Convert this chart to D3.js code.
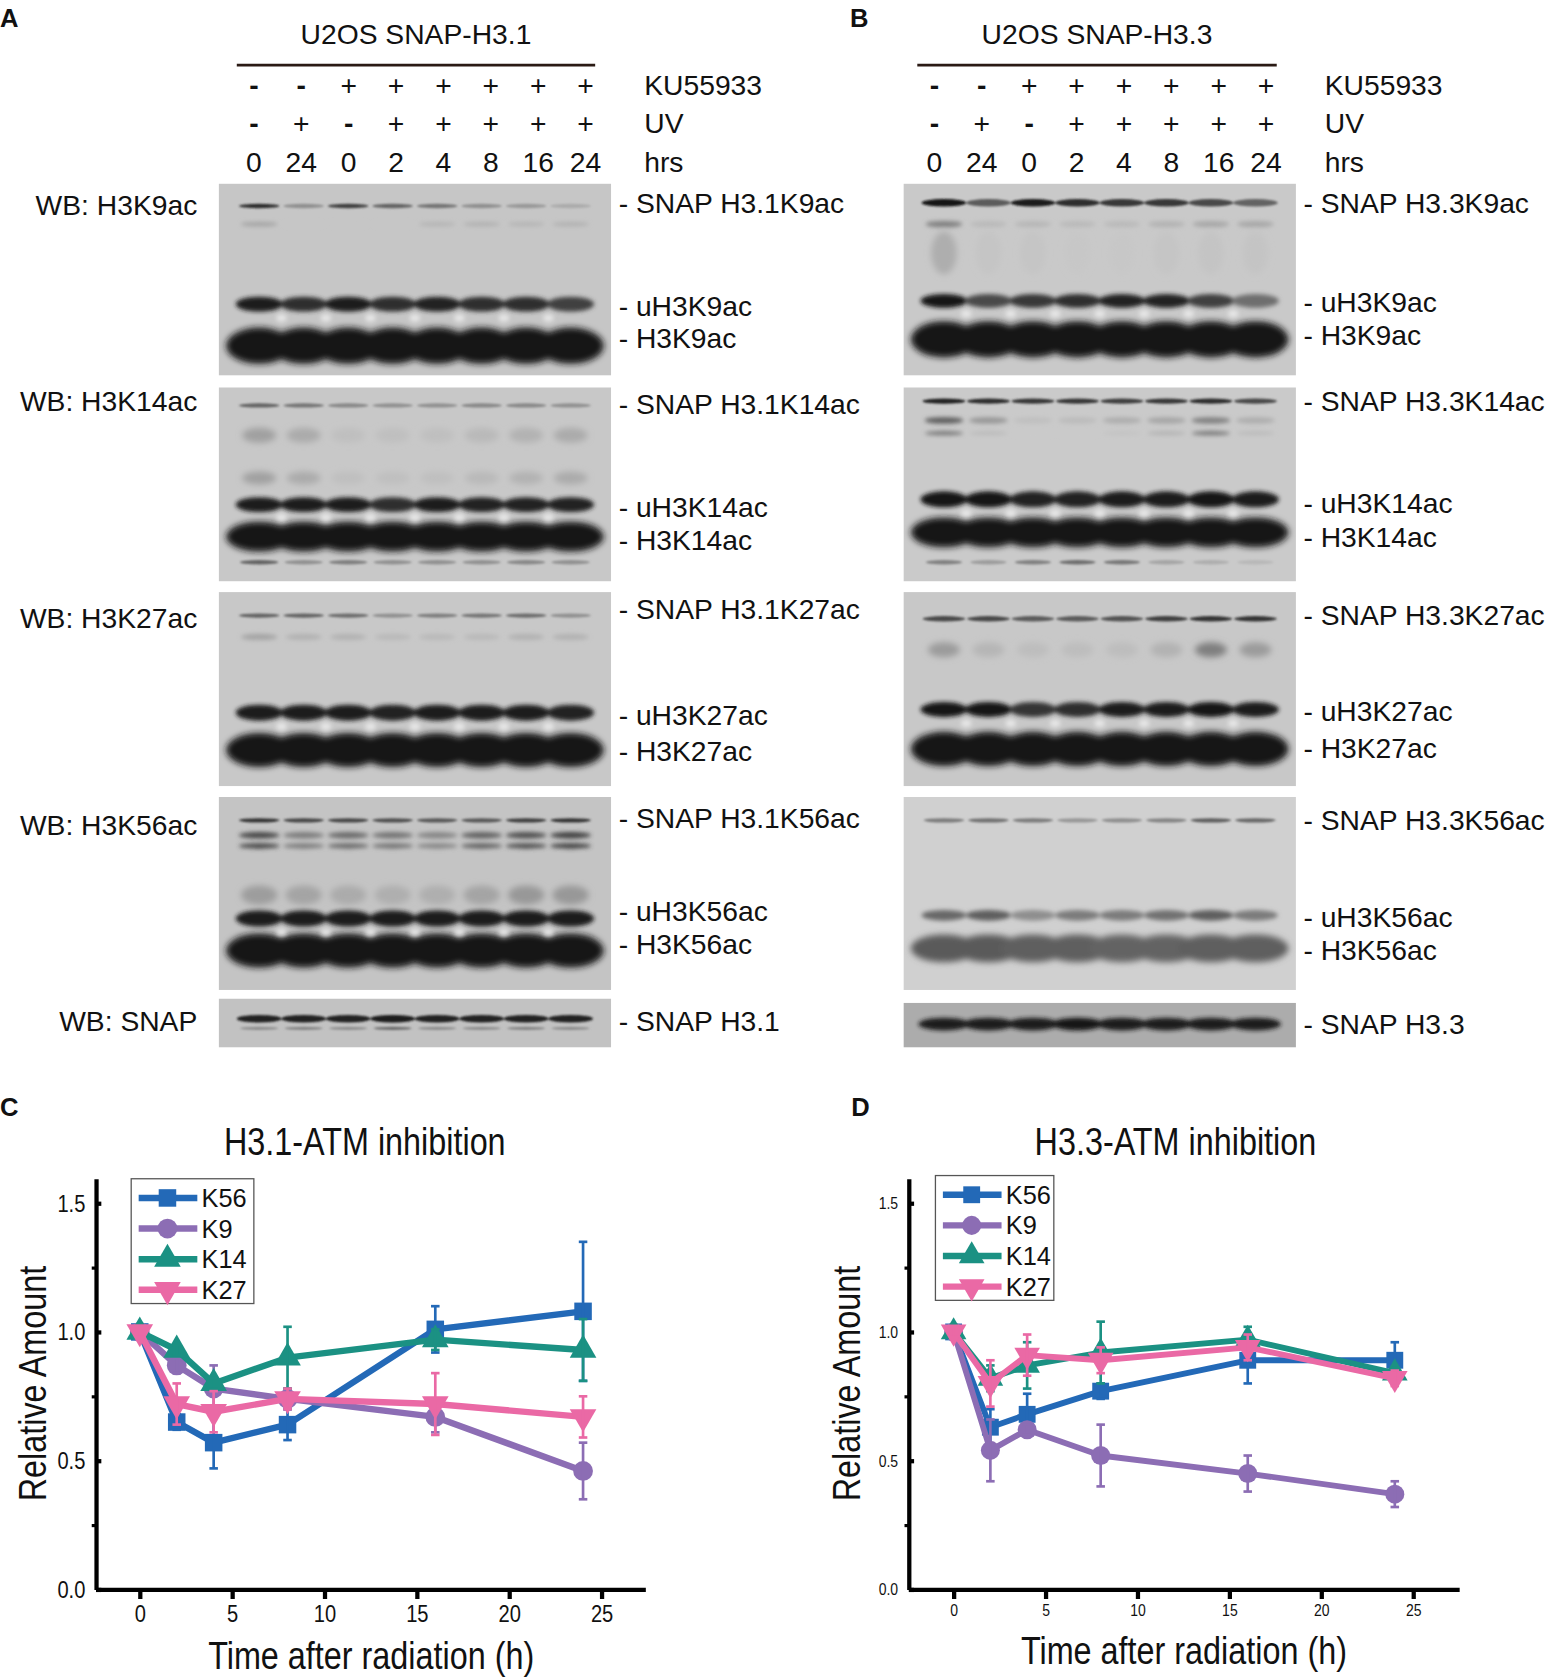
<!DOCTYPE html>
<html>
<head>
<meta charset="utf-8">
<script src="https://cdn.jsdelivr.net/npm/d3@7"></script>
<style>
  body { margin: 0; background: #fff; }
</style>
</head>
<body>
<div id="fig"></div>
<script>
// ---- lane annotations (same for both blots) ----
var kuRow = ["-", "-", "+", "+", "+", "+", "+", "+"];
var uvRow = ["-", "+", "-", "+", "+", "+", "+", "+"];
var hrsRow = ["0", "24", "0", "2", "4", "8", "16", "24"];

// ---- band intensities per lane, 0 = nothing, 1 = black ----
// panel A, SNAP-H3.1
var aK9Snap = [0.85, 0.3, 0.75, 0.55, 0.45, 0.3, 0.25, 0.15];
var aK9Faint = [0.2, 0, 0, 0, 0.1, 0.12, 0.1, 0.12];
var aK9U = [0.95, 0.85, 0.95, 0.85, 0.9, 0.85, 0.85, 0.75];
var aK14Snap = [0.55, 0.45, 0.35, 0.3, 0.3, 0.35, 0.35, 0.3];
var aK14Smear = [0.22, 0.16, 0.05, 0.05, 0.05, 0.08, 0.12, 0.16];
var aK14U = [0.95, 0.95, 0.95, 0.85, 0.95, 0.9, 0.9, 0.9];
var aK14Low = [0.55, 0.3, 0.4, 0.3, 0.3, 0.3, 0.35, 0.3];
var aK27Snap = [0.55, 0.55, 0.5, 0.3, 0.4, 0.45, 0.5, 0.3];
var aK27Faint = [0.2, 0.12, 0.12, 0.08, 0.08, 0.08, 0.12, 0.12];
var aK27U = [0.95, 0.95, 0.95, 0.9, 0.95, 0.95, 0.95, 0.9];
var aK56Snap = [0.8, 0.7, 0.7, 0.65, 0.6, 0.6, 0.75, 0.8];
var aK56Doublet = [0.7, 0.4, 0.5, 0.45, 0.35, 0.55, 0.65, 0.75];
var aK56Smear = [0.22, 0.18, 0.14, 0.12, 0.12, 0.18, 0.25, 0.25];
var aK56U = [0.95, 0.95, 0.95, 0.95, 0.95, 0.95, 0.95, 0.95];
var aSnap = [0.9, 0.9, 0.9, 0.95, 0.9, 0.9, 0.9, 0.9];
var aSnapLow = [0.3, 0.35, 0.3, 0.5, 0.3, 0.3, 0.35, 0.3];
// panel B, SNAP-H3.3
var bK9Snap = [1, 0.6, 0.95, 0.85, 0.8, 0.8, 0.7, 0.55];
var bK9Faint = [0.4, 0.08, 0.1, 0.08, 0.08, 0.12, 0.18, 0.18];
var bK9Smear = [0.15, 0.02, 0.02, 0.01, 0.01, 0.02, 0.03, 0.03];
var bK9U = [1, 0.7, 0.8, 0.85, 0.9, 0.9, 0.75, 0.5];
var bK14Snap = [0.9, 0.85, 0.8, 0.8, 0.75, 0.8, 0.85, 0.7];
var bK14Smear = [0.6, 0.28, 0.06, 0.08, 0.16, 0.2, 0.4, 0.16];
var bK14Smear2 = [0.45, 0.08, 0, 0, 0.04, 0.12, 0.45, 0.08];
var bK14U = [1, 1, 0.9, 0.9, 0.95, 0.95, 1, 0.95];
var bK14Low = [0.4, 0.25, 0.4, 0.5, 0.45, 0.2, 0.15, 0.1];
var bK27Snap = [0.7, 0.7, 0.6, 0.6, 0.65, 0.75, 0.8, 0.8];
var bK27Faint = [0.25, 0.1, 0.06, 0.06, 0.06, 0.12, 0.4, 0.25];
var bK27U = [1, 1, 0.8, 0.85, 0.95, 0.95, 1, 0.95];
var bK56Snap = [0.45, 0.5, 0.45, 0.3, 0.35, 0.4, 0.6, 0.55];
var bK56U = [0.55, 0.6, 0.35, 0.45, 0.45, 0.5, 0.6, 0.45];
var bK56H = [0.62, 0.62, 0.6, 0.6, 0.57, 0.57, 0.6, 0.6];
var bSnap = [0.95, 0.95, 0.95, 1, 0.95, 0.95, 0.95, 0.95];
var fullBand = [1, 1, 1, 1, 1, 1, 1, 1];

// blot labels
var wbLabels = ["WB: H3K9ac", "WB: H3K14ac", "WB: H3K27ac", "WB: H3K56ac", "WB: SNAP"];
var aBandLabels = [["SNAP H3.1K9ac", "uH3K9ac", "H3K9ac"], ["SNAP H3.1K14ac", "uH3K14ac", "H3K14ac"],
  ["SNAP H3.1K27ac", "uH3K27ac", "H3K27ac"], ["SNAP H3.1K56ac", "uH3K56ac", "H3K56ac"], ["SNAP H3.1"]];
var bBandLabels = [["SNAP H3.3K9ac", "uH3K9ac", "H3K9ac"], ["SNAP H3.3K14ac", "uH3K14ac", "H3K14ac"],
  ["SNAP H3.3K27ac", "uH3K27ac", "H3K27ac"], ["SNAP H3.3K56ac", "uH3K56ac", "H3K56ac"], ["SNAP H3.3"]];

// ---- quantification (relative amount) ----
var times = [0, 2, 4, 8, 16, 24];
var seriesNames = ["K56", "K9", "K14", "K27"];
var xTicks = [0, 5, 10, 15, 20, 25];
var yTicks = [0, 0.5, 1.0, 1.5];
var yMinor = [0.25, 0.75, 1.25];

var h31K56 = [1.00, 0.65, 0.57, 0.64, 1.01, 1.08];
var h31K56Err = [0.02, 0.03, 0.10, 0.06, 0.09, 0.27];
var h31K9 = [1.00, 0.87, 0.78, 0.74, 0.67, 0.46];
var h31K9Err = [0.02, 0.03, 0.09, 0.04, 0.06, 0.11];
var h31K14 = [1.00, 0.93, 0.80, 0.90, 0.97, 0.93];
var h31K14Err = [0.02, 0.02, 0.02, 0.12, 0.04, 0.12];
var h31K27 = [1.00, 0.72, 0.69, 0.74, 0.72, 0.67];
var h31K27Err = [0.02, 0.08, 0.08, 0.04, 0.12, 0.08];

var h33K56 = [1.00, 0.63, 0.68, 0.77, 0.89, 0.89];
var h33K56Err = [0.02, 0.07, 0.08, 0.03, 0.09, 0.07];
var h33K9 = [1.00, 0.54, 0.62, 0.52, 0.45, 0.37];
var h33K9Err = [0.02, 0.12, 0.02, 0.12, 0.07, 0.05];
var h33K14 = [1.00, 0.82, 0.87, 0.92, 0.97, 0.84];
var h33K14Err = [0.02, 0.05, 0.09, 0.12, 0.05, 0.02];
var h33K27 = [1.00, 0.80, 0.91, 0.89, 0.94, 0.82];
var h33K27Err = [0.02, 0.09, 0.08, 0.05, 0.05, 0.03];

var colors = ["#2369b7", "#8c6db4", "#1b9183", "#ea69a5"];

// ---------------------------------------------------------------
var cv = document.createElement("canvas").getContext("2d");
function fontExists(name) {
  var s = "mmmmmmmmmmlliWW1234";
  cv.font = "40px monospace";
  var a = cv.measureText(s).width;
  cv.font = '40px "' + name + '", monospace';
  return cv.measureText(s).width !== a;
}
var hasNarrow = fontExists("Liberation Sans Narrow");
var SANS = '"Liberation Sans", Arial, sans-serif';
var NARROW = hasNarrow ? '"Liberation Sans Narrow", "Liberation Sans", sans-serif' : SANS;
// squeeze text when no narrow face is installed
function squeeze(sel) {
  if (hasNarrow) return;
  sel.each(function() {
    var w = this.getComputedTextLength();
    d3.select(this).attr("textLength", w * 0.82).attr("lengthAdjust", "spacingAndGlyphs");
  });
}

var svg = d3.select("#fig").append("svg")
  .attr("width", 1553).attr("height", 1677)
  .attr("viewBox", "0 0 1456 1572");
var defs = svg.append("defs");
[["b1", 1.2], ["b2", 2], ["b3", 3.2]].forEach(function(f) {
  defs.append("filter").attr("id", f[0])
    .attr("x", "-50%").attr("y", "-100%").attr("width", "200%").attr("height", "300%")
    .append("feGaussianBlur").attr("stdDeviation", f[1]);
});

function txt(g, x, y, s, size, anchor, family, weight) {
  return g.append("text").attr("x", x).attr("y", y).attr("dy", "0.35em")
    .attr("text-anchor", anchor || "start")
    .style("font-family", family || SANS).style("font-size", size + "px")
    .style("font-weight", weight || "normal").attr("fill", "#111").text(s);
}

// ---- western blot panels ----
var clipN = 0;
function blot(g, x, y, w, h, bg, bands) {
  var lane = d3.scalePoint().domain(d3.range(8)).range([x + 38, x + w - 38]);
  var pitch = lane.step();
  var ink = d3.interpolateRgb(bg, "#121212");
  var id = "clip" + (clipN++);
  defs.append("clipPath").attr("id", id).append("rect")
    .attr("x", x).attr("y", y).attr("width", w).attr("height", h);
  var b = g.append("g").attr("clip-path", "url(#" + id + ")");
  b.append("rect").attr("x", x).attr("y", y).attr("width", w).attr("height", h).attr("fill", bg);
  bands.forEach(function(band) {
    var vals = band.between ? d3.range(7) : band.vals;
    b.append("g").attr("filter", "url(#" + band.f + ")")
      .selectAll("ellipse").data(vals).join("ellipse")
      .attr("cx", function(d, i) { return lane(i) + (band.between ? pitch / 2 : 0); })
      .attr("cy", y + band.rel)
      .attr("rx", band.rx)
      .attr("ry", band.th / 2)
      .attr("fill", function(d) { return band.light ? "#ececec" : ink(d); })
      .attr("opacity", band.light ? 0.85 : 1);
  });
}

function histonePanel(x0, laneX0, laneX1, title, lineX0, lineX1, letter, letterX, blots, labels) {
  var g = svg.append("g");
  txt(g, letterX, 17, letter, 24, "start", SANS, "bold");
  txt(g, (lineX0 + lineX1) / 2, 32, title, 26.5, "middle");
  g.append("line").attr("x1", lineX0).attr("x2", lineX1).attr("y1", 61).attr("y2", 61)
    .attr("stroke", "#2a1a14").attr("stroke-width", 2.5);
  var lx = d3.scalePoint().domain(d3.range(8)).range([laneX0, laneX1]);
  [[kuRow, 80, "KU55933"], [uvRow, 115, "UV"], [hrsRow, 152, "hrs"]].forEach(function(r) {
    g.selectAll(null).data(r[0]).join("text")
      .attr("x", function(d, i) { return lx(i); }).attr("y", r[1]).attr("dy", "0.35em")
      .attr("text-anchor", "middle").style("font-family", SANS).style("font-size", "26.5px")
      .style("font-weight", function(d) { return d === "-" ? "bold" : "normal"; })
      .attr("fill", "#111").text(function(d) { return d; });
    txt(g, laneX1 + 55, r[1], r[2], 26.5);
  });
  blots.forEach(function(bl, k) {
    blot(g, x0, bl.top, 368, bl.h, bl.bg, bl.bands);
    labels[k].forEach(function(s, j) {
      txt(g, x0 + 375, bl.labelY[j], "- " + s, 26.5);
    });
  });
  return g;
}

function gapBand(rel) { return { rel: rel, th: 7, rx: 5, between: true, light: true, f: "b2" }; }

var blotsA = [
  { top: 172, h: 180, bg: "#c6c6c6", labelY: [190, 287, 317], bands: [
    { rel: 21, th: 4, rx: 19, vals: aK9Snap, f: "b1" },
    { rel: 38, th: 4, rx: 17, vals: aK9Faint, f: "b2" },
    { rel: 113, th: 14, rx: 22, vals: aK9U, f: "b2" },
    { rel: 152, th: 34, rx: 31, vals: fullBand, f: "b3" },
    gapBand(126)] },
  { top: 363, h: 182, bg: "#c8c8c8", labelY: [379, 475, 506], bands: [
    { rel: 17, th: 4, rx: 19, vals: aK14Snap, f: "b1" },
    { rel: 45, th: 14, rx: 16, vals: aK14Smear, f: "b3" },
    { rel: 85, th: 12, rx: 16, vals: aK14Smear, f: "b3" },
    { rel: 110, th: 14, rx: 22, vals: aK14U, f: "b2" },
    { rel: 140, th: 28, rx: 31, vals: fullBand, f: "b3" },
    { rel: 164, th: 4, rx: 18, vals: aK14Low, f: "b1" },
    gapBand(122)] },
  { top: 555, h: 182, bg: "#c8c8c8", labelY: [571, 670, 704], bands: [
    { rel: 22, th: 4, rx: 19, vals: aK27Snap, f: "b1" },
    { rel: 42, th: 6, rx: 17, vals: aK27Faint, f: "b2" },
    { rel: 113, th: 15, rx: 22, vals: aK27U, f: "b2" },
    { rel: 148, th: 32, rx: 31, vals: fullBand, f: "b3" },
    gapBand(126)] },
  { top: 747, h: 181, bg: "#c4c4c4", labelY: [767, 854, 885], bands: [
    { rel: 22, th: 4, rx: 19, vals: aK56Snap, f: "b1" },
    { rel: 36, th: 6, rx: 19, vals: aK56Doublet, f: "b2" },
    { rel: 46, th: 5, rx: 19, vals: aK56Doublet, f: "b2" },
    { rel: 92, th: 18, rx: 17, vals: aK56Smear, f: "b3" },
    { rel: 114, th: 15, rx: 22, vals: aK56U, f: "b2" },
    { rel: 144, th: 32, rx: 31, vals: fullBand, f: "b3" },
    gapBand(127)] },
  { top: 936, h: 46, bg: "#c2c2c2", labelY: [957], bands: [
    { rel: 28, th: 3, rx: 18, vals: aSnapLow, f: "b1" },
    { rel: 19, th: 7, rx: 21, vals: aSnap, f: "b1" }] }
];

var blotsB = [
  { top: 172, h: 180, bg: "#c9c9c9", labelY: [190, 283, 314], bands: [
    { rel: 18, th: 7, rx: 21, vals: bK9Snap, f: "b1" },
    { rel: 38, th: 6, rx: 17, vals: bK9Faint, f: "b2" },
    { rel: 65, th: 40, rx: 12, vals: bK9Smear, f: "b3" },
    { rel: 110, th: 13, rx: 22, vals: bK9U, f: "b2" },
    { rel: 146, th: 34, rx: 31, vals: fullBand, f: "b3" },
    gapBand(122)] },
  { top: 363, h: 182, bg: "#cacaca", labelY: [376, 472, 503], bands: [
    { rel: 13, th: 5, rx: 20, vals: bK14Snap, f: "b1" },
    { rel: 31, th: 6, rx: 18, vals: bK14Smear, f: "b2" },
    { rel: 43, th: 4, rx: 18, vals: bK14Smear2, f: "b2" },
    { rel: 105, th: 15, rx: 22, vals: bK14U, f: "b2" },
    { rel: 136, th: 28, rx: 31, vals: fullBand, f: "b3" },
    { rel: 164, th: 4, rx: 17, vals: bK14Low, f: "b1" },
    gapBand(118)] },
  { top: 555, h: 182, bg: "#c8c8c8", labelY: [577, 667, 701], bands: [
    { rel: 25, th: 5, rx: 20, vals: bK27Snap, f: "b1" },
    { rel: 54, th: 14, rx: 15, vals: bK27Faint, f: "b3" },
    { rel: 110, th: 14, rx: 22, vals: bK27U, f: "b2" },
    { rel: 147, th: 32, rx: 31, vals: fullBand, f: "b3" },
    gapBand(123)] },
  { top: 747, h: 181, bg: "#d0d0d0", labelY: [769, 860, 891], bands: [
    { rel: 22, th: 4, rx: 19, vals: bK56Snap, f: "b1" },
    { rel: 111, th: 10, rx: 21, vals: bK56U, f: "b2" },
    { rel: 142, th: 26, rx: 31, vals: bK56H, f: "b3" }] },
  { top: 940, h: 42, bg: "#acacac", labelY: [960], bands: [
    { rel: 20, th: 12, rx: 24, vals: bSnap, f: "b2" }] }
];

var panelA = histonePanel(205, 238, 549, "U2OS SNAP-H3.1", 222, 558, "A", 0, blotsA, aBandLabels);
var panelB = histonePanel(847, 876, 1187, "U2OS SNAP-H3.3", 860, 1197, "B", 797, blotsB, bBandLabels);
// WB labels on the left of panel A
wbLabels.forEach(function(s, k) {
  txt(panelA, 185, [192, 376, 579, 773, 957][k], s, 26.5, "end");
});

// ---- line charts ----
function lineChart(o) {
  var g = svg.append("g");
  var x = d3.scaleLinear().domain(o.xDom).range([o.left, o.right]);
  var y = d3.scaleLinear().domain([0, 1.595]).range([o.bottom, o.top]);

  txt(g, o.letterX, 1038, o.letter, 24, "start", SANS, "bold");
  squeeze(txt(g, o.titleX, 1070, o.title, 37, "middle", NARROW));
  squeeze(txt(g, o.xLabelX, o.xLabelY, "Time after radiation (h)", 37, "middle", NARROW));
  squeeze(g.append("text").attr("transform", "translate(" + o.yLabelX + ",1297) rotate(-90)")
    .attr("dy", "0.35em").attr("text-anchor", "middle")
    .style("font-family", NARROW).style("font-size", "37px").attr("fill", "#111")
    .text("Relative Amount"));

  var ya = g.append("g").attr("transform", "translate(" + o.left + ",0)")
    .call(d3.axisLeft(y).tickValues(yTicks).tickFormat(d3.format(".1f"))
      .tickSizeInner(-5).tickSizeOuter(0).tickPadding(10));
  ya.select(".domain").attr("stroke", "#000").attr("stroke-width", 4);
  ya.selectAll(".tick line").attr("stroke", "#000").attr("stroke-width", 4);
  ya.selectAll(".tick text").style("font-family", NARROW).style("font-size", o.tickFont + "px").attr("fill", "#111");
  squeeze(ya.selectAll(".tick text"));

  var ym = g.append("g").attr("transform", "translate(" + o.left + ",0)")
    .call(d3.axisLeft(y).tickValues(yMinor).tickFormat("").tickSizeInner(4).tickSizeOuter(0));
  ym.select(".domain").remove();
  ym.selectAll(".tick line").attr("stroke", "#000").attr("stroke-width", 3);

  var xa = g.append("g").attr("transform", "translate(0," + o.bottom + ")")
    .call(d3.axisBottom(x).tickValues(xTicks).tickSizeInner(9).tickSizeOuter(0).tickPadding(5));
  xa.select(".domain").attr("stroke", "#000").attr("stroke-width", 4);
  xa.selectAll(".tick line").attr("stroke", "#000").attr("stroke-width", 4);
  xa.selectAll(".tick text").style("font-family", NARROW).style("font-size", o.tickFont + "px").attr("fill", "#111");
  squeeze(xa.selectAll(".tick text"));

  var symbols = [d3.symbolSquare, d3.symbolCircle, d3.symbolTriangle, d3.symbolTriangle];
  var rot = [0, 0, 0, 180];
  function marker(sel, k) {
    sel.attr("d", d3.symbol().type(symbols[k]).size(o.markSize))
      .attr("fill", colors[k]);
  }

  var line = d3.line().x(function(d) { return x(d.t); }).y(function(d) { return y(d.v); });
  o.series.forEach(function(s, k) {
    var pts = times.map(function(t, i) { return { t: t, v: s.vals[i], e: s.errs[i] }; });
    var sg = g.append("g");
    sg.append("path").datum(pts).attr("d", line).attr("fill", "none")
      .attr("stroke", colors[k]).attr("stroke-width", o.lineW).attr("stroke-linejoin", "round");
    sg.selectAll("path.mk").data(pts).join("path").attr("class", "mk")
      .attr("transform", function(d) { return "translate(" + x(d.t) + "," + y(d.v) + ") rotate(" + rot[k] + ")"; })
      .call(marker, k);
    var eb = sg.selectAll("g.eb").data(pts).join("g").attr("class", "eb")
      .attr("stroke", colors[k]).attr("stroke-width", 2.5);
    eb.append("line").attr("x1", function(d) { return x(d.t); }).attr("x2", function(d) { return x(d.t); })
      .attr("y1", function(d) { return y(d.v + d.e); }).attr("y2", function(d) { return y(d.v - d.e); });
    [1, -1].forEach(function(sgn) {
      eb.append("line").attr("x1", function(d) { return x(d.t) - 4; }).attr("x2", function(d) { return x(d.t) + 4; })
        .attr("y1", function(d) { return y(d.v + sgn * d.e); }).attr("y2", function(d) { return y(d.v + sgn * d.e); });
    });
  });

  // legend: text kept small enough vertically so rows do not collide,
  // then stretched sideways to the printed width
  var lg = g.append("g").attr("transform", "translate(" + o.legX + "," + o.legY + ")");
  lg.append("rect").attr("width", o.legW).attr("height", 117).attr("fill", "#fff")
    .attr("stroke", "#555").attr("stroke-width", 1.2);
  seriesNames.forEach(function(n, k) {
    var yy = 18 + k * 28.7;
    lg.append("line").attr("x1", 7).attr("x2", 62).attr("y1", yy).attr("y2", yy)
      .attr("stroke", colors[k]).attr("stroke-width", 6);
    lg.append("path").attr("transform", "translate(34," + yy + ") rotate(" + rot[k] + ")").call(marker, k);
    var t = txt(lg, 66, yy, n, 24, "start", NARROW);
    var w = t.node().getComputedTextLength() * (hasNarrow ? 1 : 0.82) * 29 / 24;
    t.attr("textLength", w).attr("lengthAdjust", "spacingAndGlyphs");
  });
}

lineChart({
  letter: "C", letterX: 0, title: "H3.1-ATM inhibition", titleX: 342,
  left: 90, right: 605, top: 1105, bottom: 1490, xDom: [-2.37, 27.37],
  xLabelX: 348, xLabelY: 1552, yLabelX: 30, tickFont: 23, lineW: 6, markSize: 270,
  legX: 123, legY: 1105, legW: 115,
  series: [{ vals: h31K56, errs: h31K56Err }, { vals: h31K9, errs: h31K9Err },
           { vals: h31K14, errs: h31K14Err }, { vals: h31K27, errs: h31K27Err }]
});
lineChart({
  letter: "D", letterX: 798, title: "H3.3-ATM inhibition", titleX: 1102,
  left: 852, right: 1368, top: 1105, bottom: 1490, xDom: [-2.44, 27.5],
  xLabelX: 1110, xLabelY: 1547, yLabelX: 793, tickFont: 16, lineW: 5.5, markSize: 250,
  legX: 877, legY: 1102, legW: 111,
  series: [{ vals: h33K56, errs: h33K56Err }, { vals: h33K9, errs: h33K9Err },
           { vals: h33K14, errs: h33K14Err }, { vals: h33K27, errs: h33K27Err }]
});
</script>
</body>
</html>
